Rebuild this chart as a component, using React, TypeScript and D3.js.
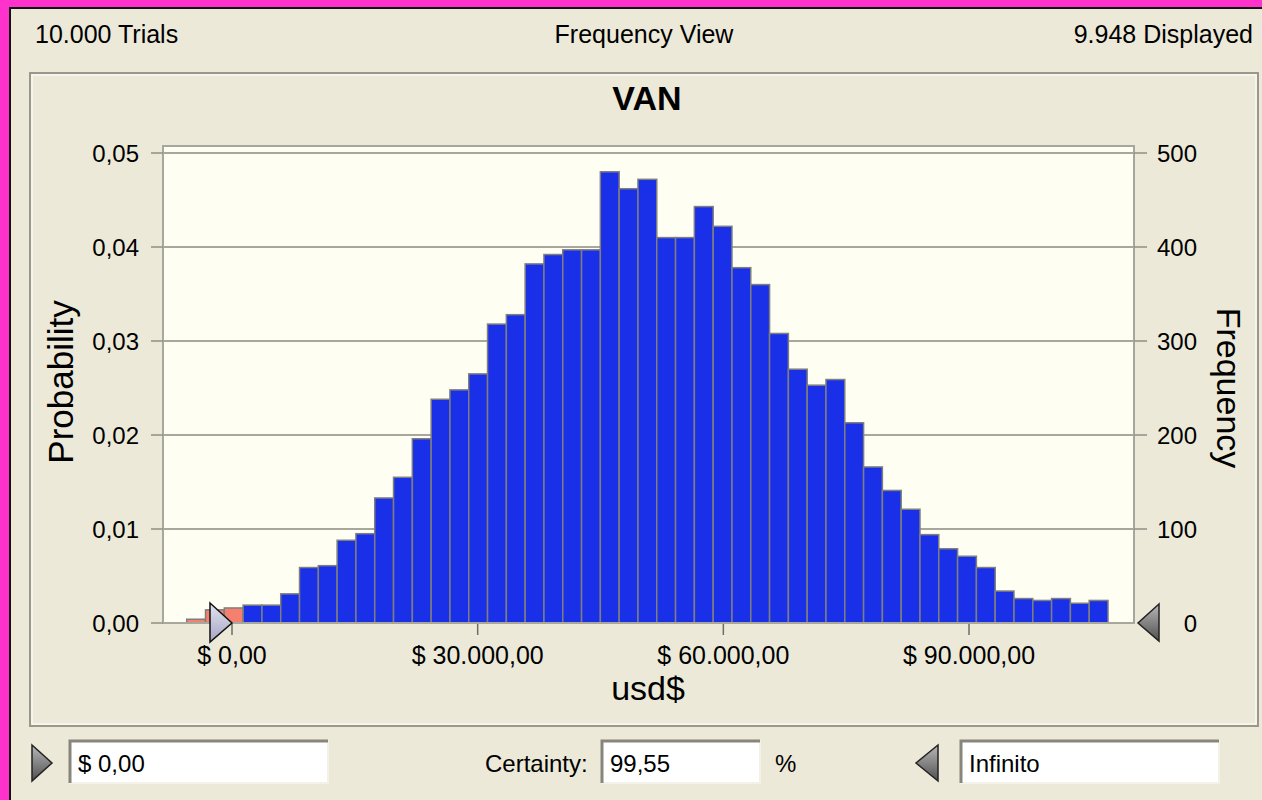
import React, { useEffect, useRef } from 'react';
import * as d3 from 'd3';

// histogram of the forecast "VAN" (Crystal Ball frequency view)
const binStart = -5530;
const binWidth = 2296;
const frequencies = [
  4, 14, 16, 19, 19, 31, 59, 61, 88, 95,
  133, 155, 196, 238, 248, 265, 318, 328, 382, 392,
  397, 397, 480, 462, 472, 410, 410, 443, 422, 378,
  360, 308, 270, 253, 259, 213, 166, 141, 121, 94,
  79, 71, 59, 34, 26, 24, 26, 21, 24
];
const trials = 10000;
const displayed = 9948;
const certaintyLow = 0;
const certaintyLabel = 'Infinito';
const certainty = 99.55;
const xDomain = [-8426, 110148];
const xTicks = [0, 30000, 60000, 90000];
const probTicks = [0, 0.01, 0.02, 0.03, 0.04, 0.05];
const freqTicks = [0, 100, 200, 300, 400, 500];

const locale = d3.formatLocale({
  decimal: ',',
  thousands: '.',
  grouping: [3],
  currency: ['$ ', '']
});
const fmtMoney = locale.format('$,.2f');
const fmtProb = locale.format('.2f');
const fmtInt = locale.format(',d');

const FONT = '"Liberation Sans", Arial, sans-serif';
const BEIGE = '#ECE9D8';

export default function App() {
  const svgRef = useRef<SVGSVGElement>(null);

  useEffect(() => {
    if (!svgRef.current) return;
    const svg = d3.select(svgRef.current);
    svg.selectAll('*').remove();

    const W = 1262, H = 800;
    const plot = { left: 163, right: 1134, top: 153, bottom: 623, frameTop: 146 };

    const x = d3.scaleLinear().domain(xDomain).range([plot.left, plot.right]);
    const yProb = d3.scaleLinear().domain([0, 0.05]).range([plot.bottom, plot.top]);
    const yFreq = d3.scaleLinear().domain([0, 500]).range([plot.bottom, plot.top]);

    const defs = svg.append('defs');
    const lav = defs.append('linearGradient').attr('id', 'lav').attr('x1', 0).attr('y1', 0).attr('x2', 0).attr('y2', 1);
    lav.append('stop').attr('offset', '0%').attr('stop-color', '#E4E4F2');
    lav.append('stop').attr('offset', '100%').attr('stop-color', '#A4A4C4');
    const grey = defs.append('linearGradient').attr('id', 'grey').attr('x1', 0).attr('y1', 0).attr('x2', 0).attr('y2', 1);
    grey.append('stop').attr('offset', '0%').attr('stop-color', '#B8B8B8');
    grey.append('stop').attr('offset', '100%').attr('stop-color', '#505050');

    // window frame
    svg.append('rect').attr('width', W).attr('height', H).attr('fill', '#FF33CC');
    svg.append('rect').attr('x', 10).attr('y', 8).attr('width', W).attr('height', H)
      .attr('fill', BEIGE).attr('stroke', '#111').attr('stroke-width', 2);

    const text = (tx: number, ty: number, s: string, size: number, anchor = 'start') =>
      svg.append('text').attr('x', tx).attr('y', ty).attr('font-family', FONT)
        .attr('font-size', size).attr('text-anchor', anchor).attr('fill', '#000').text(s);

    text(35, 43, `${fmtInt(trials)} Trials`, 25);
    text(644, 43, 'Frequency View', 25, 'middle');
    text(1253, 43, `${fmtInt(displayed)} Displayed`, 25, 'end');

    // chart box
    svg.append('rect').attr('x', 30).attr('y', 73).attr('width', 1228).attr('height', 653)
      .attr('fill', BEIGE).attr('stroke', '#9A988A').attr('stroke-width', 2);
    svg.append('rect').attr('x', 32).attr('y', 75).attr('width', 1224).attr('height', 649)
      .attr('fill', 'none').attr('stroke', '#FFFFFF').attr('stroke-width', 1);

    text(647, 110, 'VAN', 34, 'middle').attr('font-weight', 'bold');

    svg.append('rect').attr('x', plot.left).attr('y', plot.frameTop)
      .attr('width', plot.right - plot.left).attr('height', plot.bottom - plot.frameTop)
      .attr('fill', '#FEFEF2');

    // gridlines
    svg.append('g').selectAll('line').data(probTicks.slice(1)).join('line')
      .attr('x1', plot.left).attr('x2', plot.right)
      .attr('y1', d => yProb(d)).attr('y2', d => yProb(d))
      .attr('stroke', '#A8A79C').attr('stroke-width', 2);

    // bars
    const bins = frequencies.map((f, i) => ({ x0: binStart + i * binWidth, x1: binStart + (i + 1) * binWidth, f }));
    svg.append('g').selectAll('rect').data(bins).join('rect')
      .attr('x', d => x(d.x0))
      .attr('y', d => yFreq(d.f))
      .attr('width', d => x(d.x1) - x(d.x0))
      .attr('height', d => yFreq(0) - yFreq(d.f))
      .attr('fill', d => (d.x0 < certaintyLow ? '#F5806F' : '#1A30E8'))
      .attr('stroke', '#7E7E7E').attr('stroke-width', 1.5);

    // frame
    svg.append('rect').attr('x', plot.left).attr('y', plot.frameTop)
      .attr('width', plot.right - plot.left).attr('height', plot.bottom - plot.frameTop)
      .attr('fill', 'none').attr('stroke', '#A8A79C').attr('stroke-width', 2);

    // left axis
    const left = svg.append('g');
    left.selectAll('line').data(probTicks).join('line')
      .attr('x1', plot.left - 12).attr('x2', plot.left)
      .attr('y1', d => yProb(d)).attr('y2', d => yProb(d))
      .attr('stroke', '#8E8E86').attr('stroke-width', 1.5);
    left.selectAll('text').data(probTicks).join('text')
      .attr('x', 139).attr('y', d => yProb(d)).attr('dy', '0.36em')
      .attr('text-anchor', 'end').attr('font-family', FONT).attr('font-size', 24)
      .text(d => fmtProb(d));

    // right axis
    const right = svg.append('g');
    right.selectAll('line').data(freqTicks.slice(1)).join('line')
      .attr('x1', plot.right).attr('x2', plot.right + 13)
      .attr('y1', d => yFreq(d)).attr('y2', d => yFreq(d))
      .attr('stroke', '#8E8E86').attr('stroke-width', 1.5);
    right.selectAll('text').data(freqTicks).join('text')
      .attr('x', 1197).attr('y', d => yFreq(d)).attr('dy', '0.36em')
      .attr('text-anchor', 'end').attr('font-family', FONT).attr('font-size', 24)
      .text(d => String(d));

    // bottom axis
    const bottom = svg.append('g');
    bottom.selectAll('line').data(xTicks).join('line')
      .attr('x1', d => x(d)).attr('x2', d => x(d))
      .attr('y1', plot.bottom + 1).attr('y2', plot.bottom + 12)
      .attr('stroke', '#6E6E68').attr('stroke-width', 1.5);
    bottom.selectAll('text').data(xTicks).join('text')
      .attr('x', d => x(d)).attr('y', 664)
      .attr('text-anchor', 'middle').attr('font-family', FONT).attr('font-size', 25)
      .text(d => fmtMoney(d));

    // axis titles
    text(648, 700, 'usd$', 34, 'middle');
    svg.append('text').attr('transform', `translate(73,${(plot.top + plot.bottom) / 2 - 6}) rotate(-90)`)
      .attr('text-anchor', 'middle').attr('font-family', FONT).attr('font-size', 35).text('Probability');
    svg.append('text').attr('transform', `translate(1217,${(plot.top + plot.bottom) / 2}) rotate(90)`)
      .attr('text-anchor', 'middle').attr('font-family', FONT).attr('font-size', 34).text('Frequency');

    // certainty grabbers
    const x0 = x(certaintyLow);
    svg.append('path')
      .attr('d', `M${x0 - 22},${plot.bottom - 20} L${x0},${plot.bottom} L${x0 - 22},${plot.bottom + 19} Z`)
      .attr('fill', 'url(#lav)').attr('stroke', '#111').attr('stroke-width', 1.5);
    const y0 = yFreq(0);
    svg.append('path')
      .attr('d', `M${plot.right + 25},${y0 - 19} L${plot.right + 4},${y0} L${plot.right + 25},${y0 + 18} Z`)
      .attr('fill', 'url(#grey)').attr('stroke', '#222').attr('stroke-width', 1.5);

    // bottom controls
    const box = (bx: number, bw: number, s: string) => {
      svg.append('rect').attr('x', bx).attr('y', 741).attr('width', bw).attr('height', 42)
        .attr('fill', '#FFFFFF').attr('stroke', '#F4F2E8').attr('stroke-width', 2);
      svg.append('path').attr('d', `M${bx},783 L${bx},741 L${bx + bw},741`)
        .attr('fill', 'none').attr('stroke', '#87867C').attr('stroke-width', 3);
      text(bx + 8, 772, s, 24);
    };
    box(70, 258, fmtMoney(certaintyLow));
    box(602, 158, locale.format('.2f')(certainty));
    box(961, 258, certaintyLabel);
    text(485, 772, 'Certainty:', 24);
    text(775, 772, '%', 24);

    svg.append('path').attr('d', 'M32,745 L52,763 L32,781 Z')
      .attr('fill', 'url(#grey)').attr('stroke', '#222').attr('stroke-width', 1.5);
    svg.append('path').attr('d', 'M938,745 L916,763 L938,781 Z')
      .attr('fill', 'url(#grey)').attr('stroke', '#222').attr('stroke-width', 1.5);
  }, []);

  return (
    <svg
      ref={svgRef}
      width={1262}
      height={800}
      style={{ position: 'absolute', left: 0, top: 0, display: 'block' }}
    />
  );
}
